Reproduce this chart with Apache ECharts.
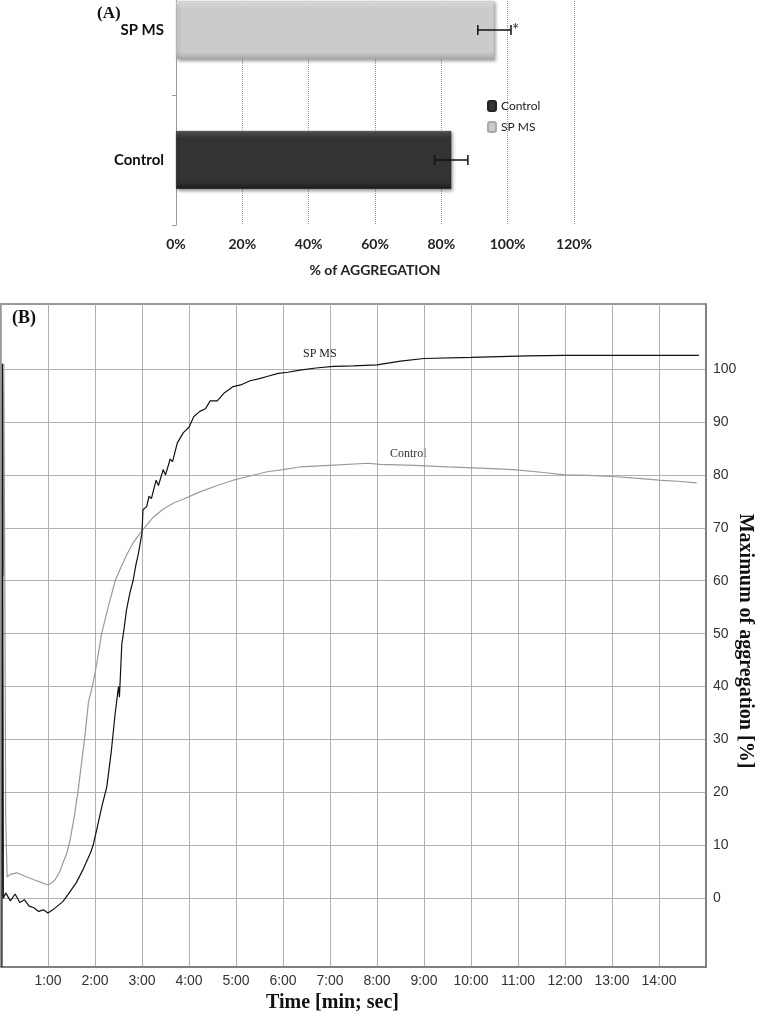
<!DOCTYPE html>
<html>
<head>
<meta charset="utf-8">
<script src="https://cdn.jsdelivr.net/npm/echarts@6/dist/echarts.min.js"></script>
<style>
  html, body { margin: 0; padding: 0; background: #fff; }
  #main { width: 761px; height: 1017px; }
</style>
</head>
<body>
<div id="main"></div>
<script>
// panel A: mean % aggregation with error bars
var barCats = ['Control', 'SP MS'];
var barMeans = [83, 96];
var barErr = [5, 5];
var barMarks = ['', '*'];
var pctTicks = [0, 20, 40, 60, 80, 100, 120];

// panel B: aggregation traces, [time in min, % aggregation]
var yTicks = [0, 10, 20, 30, 40, 50, 60, 70, 80, 90, 100];
var spmsCurve = [
  [0.02, -13], [0.03, 101], [0.05, 0], [0.1, 1], [0.2, -0.5], [0.3, 0.8], [0.4, -0.8],
  [0.5, -0.3], [0.6, -1.5], [0.7, -1.8], [0.8, -2.5], [0.9, -2.2], [1.0, -2.8], [1.1, -2.2],
  [1.2, -1.5], [1.32, -0.6], [1.45, 1], [1.6, 2.9], [1.75, 5.5], [1.9, 8.5], [1.96, 10],
  [2.05, 13.5], [2.15, 17.5], [2.25, 21], [2.35, 28], [2.43, 35], [2.5, 40], [2.52, 38],
  [2.57, 48], [2.62, 51], [2.67, 54.5], [2.75, 58], [2.81, 60], [2.87, 63], [2.92, 65],
  [2.98, 68], [3.0, 69], [3.02, 73.4], [3.1, 74], [3.15, 76], [3.2, 75.5], [3.3, 79],
  [3.35, 78], [3.45, 81], [3.5, 80], [3.6, 83], [3.65, 82.5], [3.75, 86], [3.88, 88],
  [4.0, 89], [4.1, 91], [4.23, 92], [4.35, 92.5], [4.45, 94], [4.6, 94], [4.75, 95.5],
  [4.94, 96.7], [5.1, 97], [5.3, 97.8], [5.5, 98.2], [5.66, 98.6], [5.9, 99.2], [6.1, 99.4],
  [6.36, 99.8], [6.7, 100.2], [7.07, 100.5], [7.5, 100.6], [8.0, 100.8], [8.5, 101.5],
  [9.0, 102], [10.0, 102.2], [11.2, 102.5], [12, 102.6], [13, 102.6], [14.85, 102.6]
];
var controlCurve = [
  [0.03, 101], [0.05, 61], [0.06, 101], [0.08, 61], [0.1, 15], [0.13, 4], [0.2, 4.5],
  [0.34, 4.8], [0.5, 4.2], [0.7, 3.5], [0.85, 3], [1.0, 2.5], [1.1, 3], [1.15, 3.5],
  [1.25, 5], [1.32, 6.7], [1.4, 8.5], [1.47, 11], [1.57, 16], [1.65, 21], [1.72, 26],
  [1.79, 31], [1.86, 37], [1.96, 40.7], [2.04, 44.5], [2.14, 50], [2.28, 55], [2.43, 60],
  [2.55, 62.5], [2.68, 65], [2.8, 67], [2.96, 69], [3.1, 70.5], [3.24, 72], [3.45, 73.5],
  [3.67, 74.7], [3.9, 75.5], [4.23, 76.8], [4.6, 78], [4.94, 79], [5.3, 79.8], [5.66, 80.6],
  [6.0, 81], [6.36, 81.5], [7.0, 81.8], [7.8, 82.2], [8.06, 82], [8.8, 81.8], [9.5, 81.5],
  [10.2, 81.3], [10.9, 81], [11.5, 80.5], [12.0, 80], [12.5, 79.9], [13.0, 79.7],
  [13.5, 79.4], [14.0, 79], [14.4, 78.8], [14.8, 78.5]
];

var sans = 'Lato, "Open Sans", sans-serif';
var serif = '"Liberation Serif", "DejaVu Serif", serif';

function barFill(top, mid, bot) {
  return {
    type: 'linear', x: 0, y: 0, x2: 0, y2: 1,
    colorStops: [
      {offset: 0, color: top}, {offset: 0.12, color: mid},
      {offset: 0.88, color: mid}, {offset: 1, color: bot}
    ]
  };
}

var myChart = echarts.init(document.getElementById('main'), null, {renderer: 'canvas'});
var option = {
  backgroundColor: '#fff',
  animation: false,
  legend: {
    data: ['Control', 'SP MS'],
    orient: 'vertical',
    left: 482, top: 95,
    itemWidth: 8, itemHeight: 10, itemGap: 9,
    textStyle: {fontFamily: sans, fontSize: 12, color: '#222'}
  },
  grid: [
    {left: 176, top: -35, width: 398, height: 260, outerBoundsMode: 'none'},
    {left: 1, top: 304, width: 705, height: 663, outerBoundsMode: 'none',
      show: true, borderColor: '#777', borderWidth: 1.5, backgroundColor: '#fff'}
  ],
  xAxis: [
    {
      gridIndex: 0, type: 'value', min: pctTicks[0], max: pctTicks[pctTicks.length - 1], interval: 20,
      axisLine: {onZero: false, lineStyle: {color: '#999'}},
      axisTick: {show: false},
      axisLabel: {formatter: '{value}%', fontFamily: sans, fontWeight: 'bold', fontSize: 14, color: '#222', margin: 12},
      splitLine: {lineStyle: {color: '#999', type: 'dotted'}},
      name: '% of AGGREGATION', nameLocation: 'middle', nameGap: 38,
      nameTextStyle: {fontFamily: sans, fontWeight: 'bold', fontSize: 14, color: '#222'}
    },
    {
      gridIndex: 1, type: 'value', min: 0, max: 15, interval: 1,
      axisLine: {onZero: false, lineStyle: {color: '#777', width: 1.5}},
      axisTick: {show: false},
      axisLabel: {
        formatter: function (v) { return (v === 0 || v === 15) ? '' : v + ':00'; },
        fontFamily: '"Liberation Sans", Arial, sans-serif', fontSize: 14, color: '#333', margin: 7
      },
      splitLine: {lineStyle: {color: '#b0b0b0', width: 1}},
      name: 'Time [min; sec]', nameLocation: 'middle', nameGap: 25,
      nameTextStyle: {fontFamily: serif, fontWeight: 'bold', fontSize: 20, color: '#111', padding: [0, 42, 0, 0]}
    }
  ],
  yAxis: [
    {
      gridIndex: 0, type: 'category', data: barCats,
      axisLine: {lineStyle: {color: '#999'}},
      axisTick: {show: true, length: 4, lineStyle: {color: '#999'}},
      axisLabel: {fontFamily: sans, fontWeight: 'bold', fontSize: 15, color: '#111', margin: 12}
    },
    {
      gridIndex: 1, type: 'value', position: 'right', min: -13, max: 112.3,
      axisLine: {show: true, onZero: false, lineStyle: {color: '#777', width: 1.5}},
      axisTick: {show: false, customValues: yTicks},
      axisLabel: {customValues: yTicks, fontFamily: '"Liberation Sans", Arial, sans-serif', fontSize: 14, color: '#333', margin: 7},
      splitLine: {show: true, lineStyle: {color: '#b0b0b0', width: 1}}
    }
  ],
  series: [
    {
      name: 'Control', type: 'bar', xAxisIndex: 0, yAxisIndex: 0,
      data: [barMeans[0], '-'], barWidth: 58, barGap: '-100%',
      itemStyle: {
        color: barFill('#555', '#333', '#1a1a1a'), borderColor: '#222', borderWidth: 0.5,
        shadowBlur: 3, shadowColor: 'rgba(0,0,0,0.35)', shadowOffsetX: 2, shadowOffsetY: 2
      }
    },
    {
      name: 'SP MS', type: 'bar', xAxisIndex: 0, yAxisIndex: 0,
      data: ['-', barMeans[1]], barWidth: 58, barGap: '-100%',
      itemStyle: {
        color: barFill('#e8e8e8', '#cbcbcb', '#a8a8a8'), borderColor: '#aaa', borderWidth: 0.5,
        shadowBlur: 3, shadowColor: 'rgba(0,0,0,0.35)', shadowOffsetX: 2, shadowOffsetY: 2
      }
    },
    {
      name: 'err', type: 'custom', xAxisIndex: 0, yAxisIndex: 0, z: 5,
      data: barCats.map(function (c, i) { return [i, barMeans[i] - barErr[i], barMeans[i] + barErr[i]]; }),
      encode: {y: 0, x: [1, 2]},
      renderItem: function (params, api) {
        var cat = api.value(0);
        var lo = api.coord([api.value(1), cat]);
        var hi = api.coord([api.value(2), cat]);
        var h = 5;
        var st = {stroke: '#111', lineWidth: 1.5};
        return {
          type: 'group',
          children: [
            {type: 'line', shape: {x1: lo[0], y1: lo[1], x2: hi[0], y2: hi[1]}, style: st},
            {type: 'line', shape: {x1: lo[0], y1: lo[1] - h, x2: lo[0], y2: lo[1] + h}, style: st},
            {type: 'line', shape: {x1: hi[0], y1: hi[1] - h, x2: hi[0], y2: hi[1] + h}, style: st},
            {type: 'text', x: hi[0] + 1, y: hi[1] - 8,
              style: {text: barMarks[params.dataIndex], fontSize: 17, fill: '#333', fontFamily: sans}}
          ]
        };
      }
    },
    {
      name: 'Control trace', type: 'line', xAxisIndex: 1, yAxisIndex: 1,
      data: controlCurve, showSymbol: false, symbol: 'none',
      lineStyle: {color: '#9a9a9a', width: 1.2}
    },
    {
      name: 'SP MS trace', type: 'line', xAxisIndex: 1, yAxisIndex: 1,
      data: spmsCurve, showSymbol: false, symbol: 'none',
      lineStyle: {color: '#111', width: 1.2}
    }
  ],
  graphic: [
    {type: 'text', left: 97, top: 5, style: {text: '(A)', font: 'bold 17px ' + serif, fill: '#111'}},
    {type: 'text', left: 12, top: 309, style: {text: '(B)', font: 'bold 18px ' + serif, fill: '#111'}},
    {type: 'text', left: 303, top: 348, style: {text: 'SP MS', font: '12px ' + serif, fill: '#222'}},
    {type: 'text', left: 390, top: 448, style: {text: 'Control', font: '12px ' + serif, fill: '#333'}},
    {type: 'text', x: 745, y: 641, rotation: -Math.PI / 2,
      style: {text: 'Maximum of aggregation [%]', font: 'bold 20px ' + serif, fill: '#111',
        align: 'center', verticalAlign: 'middle'}}
  ]
};
myChart.setOption(option);
</script>
</body>
</html>
